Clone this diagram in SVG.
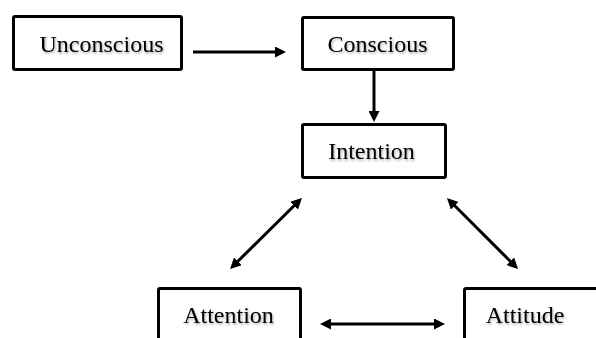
<svg xmlns="http://www.w3.org/2000/svg" width="596" height="338" viewBox="0 0 596 338">
  <style>
    .box { fill: #ffffff; stroke: #000000; stroke-width: 3; }
    .lbl { font-family: "Liberation Serif", "Times New Roman", serif; font-size: 24px; fill: #000000; text-anchor: middle; filter: url(#sh); }
    .conn { stroke: #000000; stroke-width: 3; fill: none; }
  </style>
  <defs>
    <filter id="sh" x="-10%" y="-20%" width="120%" height="150%">
      <feDropShadow dx="1" dy="1.5" stdDeviation="0.8" flood-color="#000000" flood-opacity="0.35"/>
    </filter>
    <marker id="ah" viewBox="0 0 11 11" refX="6" refY="5.5" markerWidth="11" markerHeight="11" markerUnits="userSpaceOnUse" orient="auto-start-reverse">
      <path d="M0,0 L11,5.5 L0,11 z" fill="#000000"/>
    </marker>
  </defs>
  <rect width="596" height="338" fill="#ffffff"/>
  <g id="connectors">
    <line class="conn" x1="193" y1="52" x2="281" y2="52" marker-end="url(#ah)"/>
    <line class="conn" x1="374" y1="71" x2="374" y2="117" marker-end="url(#ah)"/>
    <line class="conn" x1="298.4" y1="201.5" x2="233.6" y2="265.5" marker-start="url(#ah)" marker-end="url(#ah)"/>
    <line class="conn" x1="450.5" y1="201.5" x2="514.5" y2="265.5" marker-start="url(#ah)" marker-end="url(#ah)"/>
    <line class="conn" x1="325" y1="324" x2="440" y2="324" marker-start="url(#ah)" marker-end="url(#ah)"/>
  </g>
  <g id="unconscious">
    <rect class="box" x="13.5" y="16.5" width="168" height="53" rx="1.5"/>
    <text class="lbl" x="101.5" y="52">Unconscious</text>
  </g>
  <g id="conscious">
    <rect class="box" x="302.5" y="17.5" width="151" height="52" rx="1.5"/>
    <text class="lbl" x="377.5" y="52">Conscious</text>
  </g>
  <g id="intention">
    <rect class="box" x="302.5" y="124.5" width="143" height="53" rx="1.5"/>
    <text class="lbl" x="371.5" y="159">Intention</text>
  </g>
  <g id="attention">
    <rect class="box" x="158.5" y="288.5" width="142" height="80" rx="1.5"/>
    <text class="lbl" x="228.5" y="323">Attention</text>
  </g>
  <g id="attitude">
    <rect class="box" x="464.5" y="288.5" width="150" height="80" rx="1.5"/>
    <text class="lbl" x="525" y="323">Attitude</text>
  </g>
</svg>
